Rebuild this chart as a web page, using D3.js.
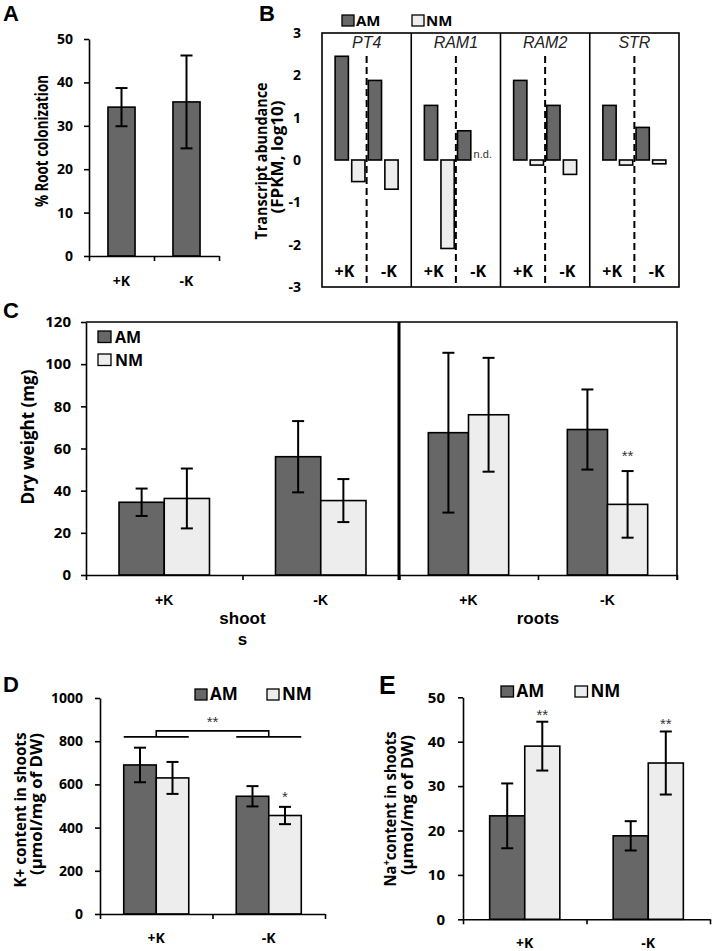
<!DOCTYPE html>
<html>
<head>
<meta charset="utf-8">
<script src="https://cdn.jsdelivr.net/npm/d3@7"></script>
<style>
  body { margin: 0; background: #fff; }
  svg { display: block; }
</style>
</head>
<body>
<div id="vis"></div>
<script>
// ---- data ----
const groups = ["+K", "-K"];
const series = ["AM", "NM"];

// A: % root colonization (AM only)
const colonMean = [34.3, 35.5];
const colonSd = [4.4, 10.7];

// B: transcript abundance, log10 FPKM  [+K, -K] per gene
const genes = ["PT4", "RAM1", "RAM2", "STR"];
const transAM = [[2.45, 1.88], [1.29, 0.69], [1.88, 1.29], [1.29, 0.77]];
const transNM = [[-0.51, -0.69], [-2.09, null], [-0.12, -0.34], [-0.12, -0.09]];

// C: dry weight (mg), [shoots, roots] x [+K, -K]
const tissues = ["shoots", "roots"];
const tissueLabels = [["shoot", "s"], ["roots"]];
const dryAM = [[34.5, 56.1], [67.5, 69.0]];
const dryAMsd = [[6.5, 16.9], [37.9, 19.0]];
const dryNM = [[36.3, 35.3], [76.0, 33.5]];
const dryNMsd = [[14.2, 10.2], [27.0, 15.8]];
const dryNMsig = [["", ""], ["", "**"]];

// D: K+ content in shoots
const kAM = [690, 545];
const kAMsd = [80, 47];
const kNM = [630, 456];
const kNMsd = [74, 40];
const kNMsig = ["", "*"];
const kBracket = [820, 848]; // levels of the +K vs -K bracket

// E: Na+ content in shoots
const naAM = [23.3, 18.8];
const naAMsd = [7.3, 3.3];
const naNM = [39.0, 35.2];
const naNMsd = [5.5, 7.1];
const naNMsig = ["**", "**"];

// ---- style ----
const FONT = "'Open Sans', 'Noto Sans', sans-serif";
const ARIAL = "'Liberation Sans', Arial, sans-serif";
const DARK = "#676767", LIGHT = "#ededed";
const fillOf = s => s === "AM" ? DARK : LIGHT;

const svg = d3.select("#vis")
  .append("svg")
  .attr("width", 714)
  .attr("height", 951)
  .attr("viewBox", [0, 0, 714, 951]);

function yAxis(g, y, x, ticks, size, pad){
  g.append("g")
    .attr("transform", `translate(${x},0)`)
    .call(d3.axisLeft(y).tickValues(ticks).tickSize(5).tickSizeOuter(0).tickPadding(pad).tickFormat(d3.format("d")))
    .call(a => {
      a.select(".domain").attr("stroke-width", 1.6);
      a.selectAll(".tick line").attr("stroke-width", 1.6);
      a.selectAll("text")
        .attr("font-size", size).attr("font-weight", "bold")
        .attr("font-family", FONT).attr("fill", "#000");
    });
}

// axis line with ticks on the category boundaries
function xAxisLine(g, x0, x1, n, yPos){
  const s = d3.scaleLinear([0, n], [x0, x1]);
  g.append("g")
    .attr("transform", `translate(0,${yPos})`)
    .call(d3.axisBottom(s).tickValues(d3.range(n + 1)).tickFormat("").tickSize(5).tickSizeOuter(0))
    .call(a => {
      a.select(".domain").attr("stroke-width", 1.6);
      a.selectAll(".tick line").attr("stroke-width", 1.6);
    });
}

function bars(g, x0, y, means, sds, names, po){
  const x1 = d3.scaleBand(names, [0, x0.bandwidth()]).paddingOuter(po);
  const rows = names.flatMap((s, si) => x0.domain().map((c, ci) => ({s, c, v: means[si][ci], sd: sds[si][ci]})));
  const cx = d => x0(d.c) + x1(d.s) + x1.bandwidth() / 2;
  g.append("g").selectAll("rect")
    .data(rows)
    .join("rect")
    .attr("x", d => x0(d.c) + x1(d.s))
    .attr("width", x1.bandwidth())
    .attr("y", d => y(d.v))
    .attr("height", d => y(0) - y(d.v))
    .attr("fill", d => fillOf(d.s))
    .attr("stroke", "#000")
    .attr("stroke-width", 1.6);
  const eb = g.append("g").attr("stroke", "#000").attr("stroke-width", 2);
  eb.selectAll(".v")
    .data(rows)
    .join("line")
    .attr("class", "v")
    .attr("x1", cx).attr("x2", cx)
    .attr("y1", d => y(d.v + d.sd))
    .attr("y2", d => y(d.v - d.sd));
  eb.selectAll(".cap")
    .data(rows.flatMap(d => [d.v + d.sd, d.v - d.sd].map(e => ({...d, e}))))
    .join("line")
    .attr("class", "cap")
    .attr("x1", d => cx(d) - 6).attr("x2", d => cx(d) + 6)
    .attr("y1", d => y(d.e)).attr("y2", d => y(d.e));
  return {x1, cx};
}

function catLabels(g, x0, yBase, size, family){
  g.append("g").selectAll("text")
    .data(x0.domain())
    .join("text")
    .attr("x", d => x0(d) + x0.bandwidth() / 2)
    .attr("y", yBase)
    .attr("text-anchor", "middle")
    .attr("font-family", family)
    .attr("font-weight", "bold")
    .attr("font-size", size)
    .text(d => d);
}

// rotated axis title, squeezed to the length it has in the figure
function vTitle(g, lines, xs, cy, size, lens){
  lines.forEach((t, i) => {
    g.append("text")
      .attr("transform", `translate(${xs[i]},${cy[i]}) rotate(-90)`)
      .attr("dy", "0.35em")
      .attr("text-anchor", "middle")
      .attr("font-family", FONT)
      .attr("font-weight", "bold")
      .attr("font-size", size)
      .attr("textLength", lens[i])
      .attr("lengthAdjust", "spacingAndGlyphs")
      .text(t);
  });
}

function legend(g, xs, ys, sq, size, gap){
  series.forEach((s, i) => {
    g.append("rect")
      .attr("x", xs[i]).attr("y", ys[i])
      .attr("width", sq[0]).attr("height", sq[1])
      .attr("fill", fillOf(s)).attr("stroke", "#000").attr("stroke-width", 1.3);
    g.append("text")
      .attr("x", xs[i] + sq[0] + gap).attr("y", ys[i] + sq[1])
      .attr("font-family", FONT).attr("font-weight", "bold").attr("font-size", size)
      .text(s);
  });
}

function letter(x, y, t, size){
  svg.append("text").attr("x", x).attr("y", y)
    .attr("font-family", ARIAL).attr("font-weight", "bold").attr("font-size", size)
    .text(t);
}

function stars(g, x, y, t){
  g.append("text").attr("x", x).attr("y", y)
    .attr("text-anchor", "middle")
    .attr("font-family", ARIAL).attr("font-size", 15).attr("fill", "#333")
    .text(t);
}

// ---- A ----
const gA = svg.append("g");
const yA = d3.scaleLinear([0, 50], [256, 39]);
const xA = d3.scaleBand(groups, [89, 219]);
bars(gA, xA, yA, [colonMean], [colonSd], ["AM"], 0.7);
yAxis(gA, yA, 89, d3.range(0, 51, 10), 14, 11);
xAxisLine(gA, 89, 219, 2, 256);
catLabels(gA, xA, 286, 14, FONT);
vTitle(gA, ["% Root colonization"], [42], [141], 17, [132]);
letter(3, 21, "A", 22);

// ---- B ----
const gB = svg.append("g");
const yB = d3.scaleLinear([-3, 3], [287, 33]);
const xB = d3.scaleBand(genes, [322, 679]);
const bKeys = ["AM+K", "NM+K", "AM-K", "NM-K"];
const xBin = d3.scaleBand(bKeys, [-31.5, 31.5]).paddingInner(0.2);
const xBg = d3.scaleBand(groups, [-44.5, 44.5]);
const bRows = genes.flatMap((gene, gi) => groups.flatMap((k, ki) => [
  {gene, s: "AM", key: "AM" + k, v: transAM[gi][ki]},
  {gene, s: "NM", key: "NM" + k, v: transNM[gi][ki]}
]));
const bCenter = gene => xB(gene) + xB.bandwidth() / 2;

gB.append("g")
  .attr("transform", "translate(322,0)")
  .call(d3.axisLeft(yB).tickValues(d3.range(-3, 4)).tickSize(0).tickPadding(21).tickFormat(d => String(d)))
  .call(a => {
    a.select(".domain").remove();
    a.selectAll("text").attr("font-size", 14).attr("font-weight", "bold")
      .attr("font-family", FONT).attr("fill", "#000");
  });

// dashed +K / -K separators (start below the gene names)
gB.append("g").selectAll("line")
  .data(genes)
  .join("line")
  .attr("x1", bCenter).attr("x2", bCenter)
  .attr("y1", 56).attr("y2", yB(-3))
  .attr("stroke", "#000").attr("stroke-width", 2)
  .attr("stroke-dasharray", "7,4");

gB.append("g").selectAll("rect")
  .data(bRows.filter(d => d.v !== null))
  .join("rect")
  .attr("x", d => bCenter(d.gene) + xBin(d.key))
  .attr("width", xBin.bandwidth())
  .attr("y", d => yB(Math.max(0, d.v)))
  .attr("height", d => Math.abs(yB(d.v) - yB(0)))
  .attr("fill", d => fillOf(d.s))
  .attr("stroke", "#000")
  .attr("stroke-width", 1.6);

gB.append("g").selectAll("text")
  .data(bRows.filter(d => d.v === null))
  .join("text")
  .attr("x", d => bCenter(d.gene) + xBin(d.key) - 0.5)
  .attr("y", yB(0) - 2)
  .attr("font-family", ARIAL).attr("font-size", 11).attr("fill", "#333")
  .text("n.d.");

// frame and gene dividers
gB.append("rect")
  .attr("x", 322).attr("y", yB(3))
  .attr("width", 679 - 322).attr("height", yB(-3) - yB(3))
  .attr("fill", "none").attr("stroke", "#000").attr("stroke-width", 1.6);
gB.append("g").selectAll("line")
  .data(genes.slice(1))
  .join("line")
  .attr("x1", d => xB(d)).attr("x2", d => xB(d))
  .attr("y1", yB(3)).attr("y2", yB(-3))
  .attr("stroke", "#000").attr("stroke-width", 1.6);

gB.append("g").selectAll("text")
  .data(genes)
  .join("text")
  .attr("x", bCenter).attr("y", 48)
  .attr("text-anchor", "middle")
  .attr("font-family", ARIAL).attr("font-style", "italic").attr("font-size", 16).attr("fill", "#222")
  .text(d => d);

gB.append("g").selectAll("text")
  .data(genes.flatMap(gene => groups.map(k => ({gene, k}))))
  .join("text")
  .attr("x", d => bCenter(d.gene) + xBg(d.k) + xBg.bandwidth() / 2)
  .attr("y", 277)
  .attr("text-anchor", "middle")
  .attr("font-family", FONT).attr("font-weight", "bold").attr("font-size", 16)
  .text(d => d.k);

legend(gB, [342, 412], [15, 15], [12, 11], 15, 2);
vTitle(gB, ["Transcript abundance", "(FPKM, log10)"], [262, 278], [161, 157], 15.5, [157, 113]);
letter(259, 21, "B", 22);

// ---- C ----
const gC = svg.append("g");
const yC = d3.scaleLinear([0, 120], [575, 322]);
const cEdges = [86, 399, 677];
tissues.forEach((t, ti) => {
  const x0 = d3.scaleBand(groups, [cEdges[ti], cEdges[ti + 1]]);
  const {x1} = bars(gC, x0, yC, [dryAM[ti], dryNM[ti]], [dryAMsd[ti], dryNMsd[ti]], series, 0.73);
  xAxisLine(gC, cEdges[ti], cEdges[ti + 1], 2, 575);
  catLabels(gC, x0, 605, 14, ARIAL);
  groups.forEach((k, ki) => {
    if (dryNMsig[ti][ki]) {
      stars(gC, x0(k) + x1("NM") + x1.bandwidth() / 2, yC(dryNM[ti][ki] + dryNMsd[ti][ki]) - 10, dryNMsig[ti][ki]);
    }
  });
  tissueLabels[ti].forEach((line, li) => {
    gC.append("text")
      .attr("x", (cEdges[ti] + cEdges[ti + 1]) / 2)
      .attr("y", 624 + li * 21)
      .attr("text-anchor", "middle")
      .attr("font-family", ARIAL).attr("font-weight", "bold").attr("font-size", 17)
      .text(line);
  });
});
yAxis(gC, yC, 86, d3.range(0, 121, 20), 15, 10);
gC.append("path")
  .attr("d", `M${cEdges[0]},${yC(120)}H${cEdges[2]}V${yC(0) + 5}`)
  .attr("fill", "none").attr("stroke", "#000").attr("stroke-width", 1.6);
gC.append("line")
  .attr("x1", cEdges[1]).attr("x2", cEdges[1])
  .attr("y1", yC(120)).attr("y2", yC(0) + 5)
  .attr("stroke", "#000").attr("stroke-width", 3);
legend(gC, [98, 98], [331, 354], [13, 11.5], 16, 4);
vTitle(gC, ["Dry weight (mg)"], [28], [437], 18, [135]);
letter(3, 318, "C", 22);

// ---- D ----
const gD = svg.append("g");
const yD = d3.scaleLinear([0, 1000], [914, 698]);
const xD = d3.scaleBand(groups, [100, 325]);
const dB = bars(gD, xD, yD, [kAM, kNM], [kAMsd, kNMsd], series, 0.73);
yAxis(gD, yD, 100, d3.range(0, 1001, 200), 14, 12);
xAxisLine(gD, 100, 325, 2, 914);
catLabels(gD, xD, 943, 14, FONT);
groups.forEach((k, ki) => {
  if (kNMsig[ki]) stars(gD, xD(k) + dB.x1("NM") + dB.x1.bandwidth() / 2, yD(kNM[ki] + kNMsd[ki]) - 5, kNMsig[ki]);
});
// bracket +K vs -K
const dMid = k => xD(k) + xD.bandwidth() / 2;
gD.append("g").selectAll("line")
  .data(groups)
  .join("line")
  .attr("x1", k => xD(k) + dB.x1("AM"))
  .attr("x2", k => xD(k) + dB.x1("NM") + dB.x1.bandwidth())
  .attr("y1", yD(kBracket[0])).attr("y2", yD(kBracket[0]))
  .attr("stroke", "#000").attr("stroke-width", 1.6);
gD.append("path")
  .attr("d", `M${dMid("+K")},${yD(kBracket[0])}V${yD(kBracket[1])}H${dMid("-K")}V${yD(kBracket[0])}`)
  .attr("fill", "none").attr("stroke", "#000").attr("stroke-width", 1.6);
stars(gD, (dMid("+K") + dMid("-K")) / 2, yD(kBracket[1]) - 4, "**");
legend(gD, [195, 267], [689, 689], [12, 11], 17, 3);
vTitle(gD, ["K+ content in shoots", "(µmol/mg of DW)"], [20, 36], [810, 804], 16, [155, 142]);
letter(3, 692, "D", 22);

// ---- E ----
const gE = svg.append("g");
const yE = d3.scaleLinear([0, 50], [919.3, 697.3]);
const xE = d3.scaleBand(groups, [463, 710]);
const eB = bars(gE, xE, yE, [naAM, naNM], [naAMsd, naNMsd], series, 0.76);
yAxis(gE, yE, 463, d3.range(0, 51, 10), 15, 13);
xAxisLine(gE, 463, 710, 2, 919.3);
catLabels(gE, xE, 948, 14, FONT);
groups.forEach((k, ki) => {
  if (naNMsig[ki]) stars(gE, xE(k) + eB.x1("NM") + eB.x1.bandwidth() / 2, yE(naNM[ki] + naNMsd[ki]) - 2, naNMsig[ki]);
});
legend(gE, [501, 575], [686, 686], [12.5, 11], 17, 3);
const eT = gE.append("text")
  .attr("transform", "translate(390,809) rotate(-90)")
  .attr("dy", "0.35em")
  .attr("text-anchor", "middle")
  .attr("font-family", FONT).attr("font-weight", "bold").attr("font-size", 16)
  .attr("textLength", 155)
  .attr("lengthAdjust", "spacingAndGlyphs");
eT.append("tspan").text("Na");
eT.append("tspan").attr("dy", -6).attr("font-size", 10).text("+");
eT.append("tspan").attr("dy", 6).text("content in shoots");
vTitle(gE, ["(µmol/mg of DW)"], [407], [805], 16, [140]);
letter(379, 694, "E", 25);
</script>
</body>
</html>
